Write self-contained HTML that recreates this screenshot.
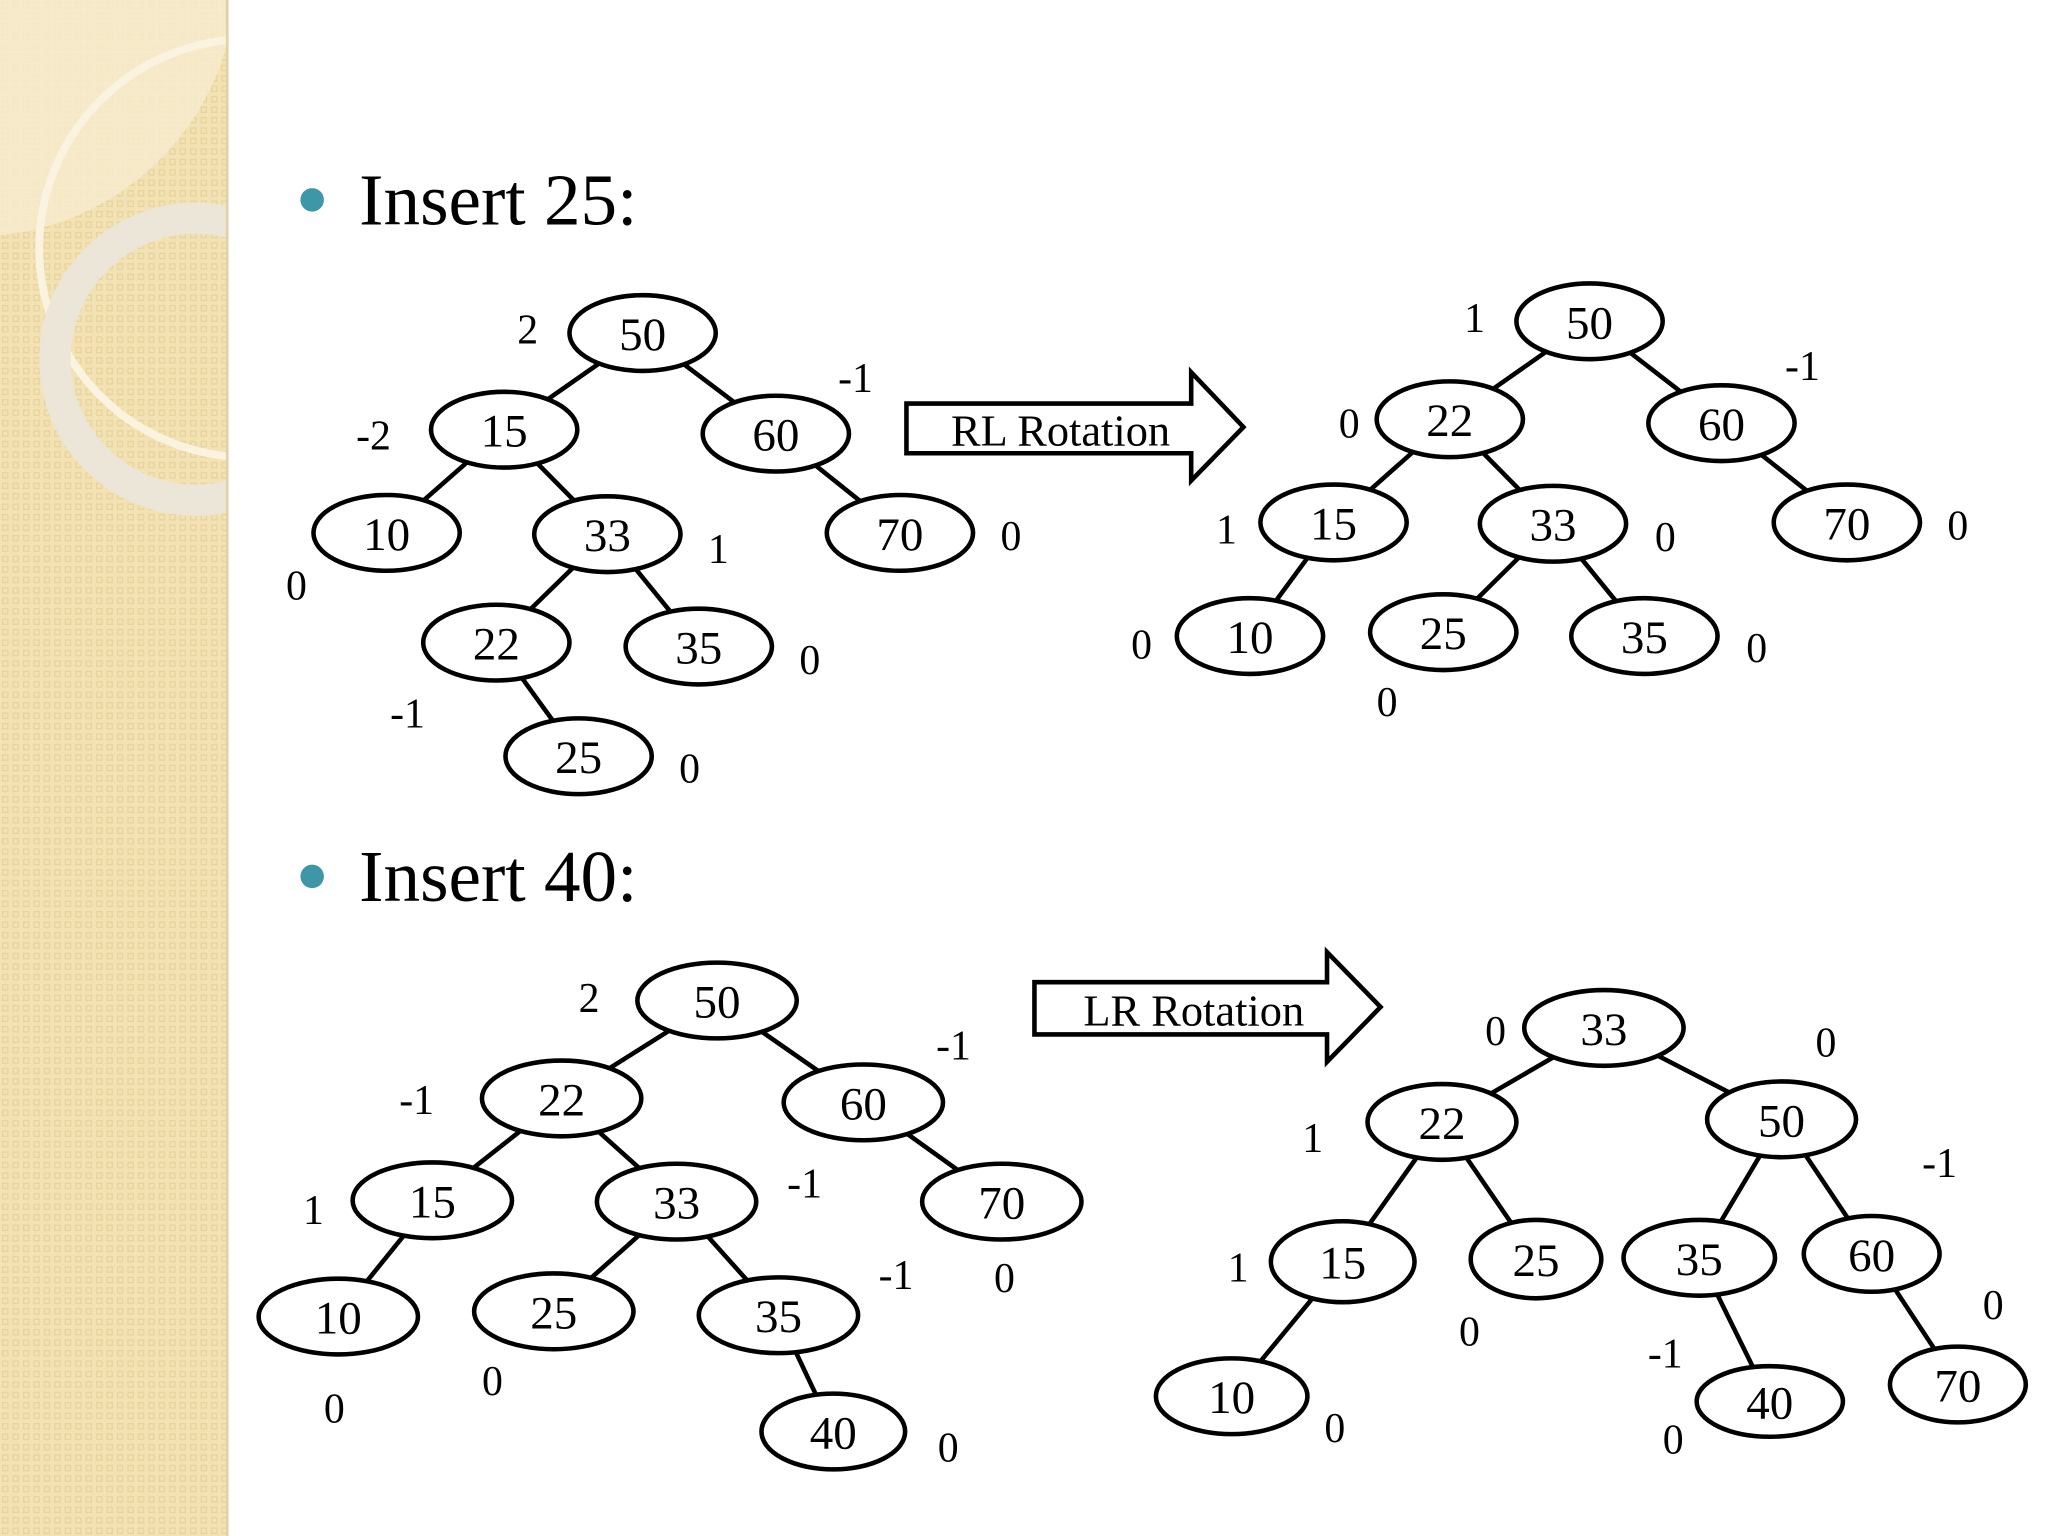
<!DOCTYPE html>
<html><head><meta charset="utf-8"><style>
html,body{margin:0;padding:0;background:#fff;}
svg{display:block;}
text{font-family:"Liberation Serif",serif;}
</style></head><body>
<svg width="2048" height="1536" viewBox="0 0 1568 1176" xmlns="http://www.w3.org/2000/svg">
<defs>
<pattern id="pt" width="8" height="8" patternUnits="userSpaceOnUse">
<rect width="8" height="8" fill="#f3e2b4"/><rect x="2" y="2" width="4" height="4" fill="none" stroke="#e8d39c" stroke-width="1"/>
</pattern>
</defs>
<rect x="0" y="0" width="174" height="1176" fill="url(#pt)"/>
<path d="M0 0 H180 A200 200 0 0 1 0 180 Z" fill="#f6ecd0" opacity="0.8"/>
<circle cx="190" cy="190" r="160" fill="none" stroke="#faf3e0" stroke-width="6"/>
<circle cx="150" cy="275" r="108" fill="none" stroke="#ebe6d8" stroke-width="24"/>
<rect x="174" y="0" width="1394" height="1176" fill="#fff"/>
<line x1="174" y1="0" x2="174" y2="1176" stroke="#e0d2a8" stroke-width="2"/>

<circle cx="239" cy="153" r="9" fill="#3d97a7"/>
<text x="275" y="172" font-size="56">Insert 25:</text>
<circle cx="239" cy="671" r="9" fill="#3d97a7"/>
<text x="275" y="690" font-size="56">Insert 40:</text>

<g stroke="#000" stroke-width="3.5" fill="none">
<!-- tree1 edges -->
<line x1="492" y1="255" x2="386" y2="329"/><line x1="492" y1="255" x2="594" y2="332"/>
<line x1="386" y1="329" x2="296" y2="408"/><line x1="386" y1="329" x2="465" y2="409"/>
<line x1="594" y1="332" x2="689" y2="408"/>
<line x1="465" y1="409" x2="380" y2="492"/><line x1="465" y1="409" x2="535" y2="495"/>
<line x1="380" y1="492" x2="443" y2="579"/>
<!-- tree2 edges -->
<line x1="1217" y1="246" x2="1110" y2="321"/><line x1="1217" y1="246" x2="1318" y2="324"/>
<line x1="1110" y1="321" x2="1021" y2="400"/><line x1="1110" y1="321" x2="1189" y2="401"/>
<line x1="1318" y1="324" x2="1414" y2="400"/>
<line x1="1021" y1="400" x2="957" y2="487"/>
<line x1="1189" y1="401" x2="1105" y2="484"/><line x1="1189" y1="401" x2="1259" y2="487"/>
<!-- tree3 edges -->
<line x1="549" y1="766" x2="430" y2="841"/><line x1="549" y1="766" x2="661" y2="844"/>
<line x1="430" y1="841" x2="331" y2="919"/><line x1="430" y1="841" x2="518" y2="920"/>
<line x1="661" y1="844" x2="767" y2="920"/>
<line x1="331" y1="919" x2="259" y2="1008"/>
<line x1="518" y1="920" x2="424" y2="1004"/><line x1="518" y1="920" x2="596" y2="1007"/>
<line x1="596" y1="1007" x2="638" y2="1096"/>
<!-- tree4 edges -->
<line x1="1228" y1="787" x2="1104" y2="859"/><line x1="1228" y1="787" x2="1364" y2="857"/>
<line x1="1104" y1="859" x2="1028" y2="966"/><line x1="1104" y1="859" x2="1176" y2="964"/>
<line x1="1364" y1="857" x2="1301" y2="963"/><line x1="1364" y1="857" x2="1433" y2="960"/>
<line x1="1028" y1="966" x2="943" y2="1069"/>
<line x1="1301" y1="963" x2="1355" y2="1073"/>
<line x1="1433" y1="960" x2="1499" y2="1060"/>
<!-- arrows -->
<polygon points="694,309 912,309 912,285 952,327 912,368 912,347 694,347" fill="#fff"/>
<polygon points="792,752 1016,752 1016,729 1057,771 1016,813 1016,792 792,792" fill="#fff"/>
</g>
<text x="812" y="341" font-size="34" text-anchor="middle">RL Rotation</text>
<text x="914" y="785" font-size="34" text-anchor="middle">LR Rotation</text>

<g stroke="#000" stroke-width="3.5" fill="#fff">
<ellipse cx="492" cy="255" rx="56" ry="29"/><ellipse cx="386" cy="329" rx="56" ry="29"/>
<ellipse cx="594" cy="332" rx="56" ry="29"/><ellipse cx="296" cy="408" rx="56" ry="29"/>
<ellipse cx="465" cy="409" rx="56" ry="29"/><ellipse cx="689" cy="408" rx="56" ry="29"/>
<ellipse cx="380" cy="492" rx="56" ry="29"/><ellipse cx="535" cy="495" rx="56" ry="29"/>
<ellipse cx="443" cy="579" rx="56" ry="29"/>

<ellipse cx="1217" cy="246" rx="56" ry="29"/><ellipse cx="1110" cy="321" rx="56" ry="29"/>
<ellipse cx="1318" cy="324" rx="56" ry="29"/><ellipse cx="1021" cy="400" rx="56" ry="29"/>
<ellipse cx="1189" cy="401" rx="56" ry="29"/><ellipse cx="1414" cy="400" rx="56" ry="29"/>
<ellipse cx="957" cy="487" rx="56" ry="29"/><ellipse cx="1105" cy="484" rx="56" ry="29"/>
<ellipse cx="1259" cy="487" rx="56" ry="29"/>

<ellipse cx="549" cy="766" rx="61" ry="29"/><ellipse cx="430" cy="841" rx="61" ry="29"/>
<ellipse cx="661" cy="844" rx="61" ry="29"/><ellipse cx="331" cy="919" rx="61" ry="29"/>
<ellipse cx="518" cy="920" rx="61" ry="29"/><ellipse cx="767" cy="920" rx="61" ry="29"/>
<ellipse cx="259" cy="1008" rx="61" ry="29"/><ellipse cx="424" cy="1004" rx="61" ry="29"/>
<ellipse cx="596" cy="1007" rx="61" ry="29"/><ellipse cx="638" cy="1096" rx="55" ry="29"/>

<ellipse cx="1228" cy="787" rx="61" ry="29"/><ellipse cx="1104" cy="859" rx="57" ry="29"/>
<ellipse cx="1364" cy="857" rx="57" ry="29"/><ellipse cx="1028" cy="966" rx="55" ry="31"/>
<ellipse cx="1176" cy="964" rx="50" ry="30"/><ellipse cx="1301" cy="963" rx="58" ry="29"/>
<ellipse cx="1433" cy="960" rx="52" ry="29"/><ellipse cx="943" cy="1069" rx="58" ry="29"/>
<ellipse cx="1355" cy="1073" rx="56" ry="27"/><ellipse cx="1499" cy="1060" rx="52" ry="29"/>
</g>

<g font-size="36" text-anchor="middle">
<text x="492" y="268">50</text><text x="386" y="342">15</text><text x="594" y="345">60</text>
<text x="296" y="421">10</text><text x="465" y="422">33</text><text x="689" y="421">70</text>
<text x="380" y="505">22</text><text x="535" y="508">35</text><text x="443" y="592">25</text>

<text x="1217" y="259">50</text><text x="1110" y="334">22</text><text x="1318" y="337">60</text>
<text x="1021" y="413">15</text><text x="1189" y="414">33</text><text x="1414" y="413">70</text>
<text x="957" y="500">10</text><text x="1105" y="497">25</text><text x="1259" y="500">35</text>

<text x="549" y="779">50</text><text x="430" y="854">22</text><text x="661" y="857">60</text>
<text x="331" y="932">15</text><text x="518" y="933">33</text><text x="767" y="933">70</text>
<text x="259" y="1021">10</text><text x="424" y="1017">25</text><text x="596" y="1020">35</text>
<text x="638" y="1109">40</text>

<text x="1228" y="800">33</text><text x="1104" y="872">22</text><text x="1364" y="870">50</text>
<text x="1028" y="979">15</text><text x="1176" y="977">25</text><text x="1301" y="976">35</text>
<text x="1433" y="973">60</text><text x="943" y="1082">10</text><text x="1355" y="1086">40</text>
<text x="1499" y="1073">70</text>
</g>

<g font-size="32" text-anchor="middle">
<text x="404" y="263">2</text><text x="655" y="300">-1</text><text x="286" y="344">-2</text>
<text x="227" y="459">0</text><text x="550" y="431">1</text><text x="774" y="421">0</text>
<text x="312" y="557">-1</text><text x="620" y="516">0</text><text x="528" y="599">0</text>

<text x="1129" y="254">1</text><text x="1380" y="291">-1</text><text x="1033" y="335">0</text>
<text x="939" y="416">1</text><text x="1275" y="422">0</text><text x="1499" y="413">0</text>
<text x="874" y="504">0</text><text x="1062" y="548">0</text><text x="1345" y="507">0</text>

<text x="451" y="775">2</text><text x="730" y="811">-1</text><text x="319" y="853">-1</text>
<text x="240" y="937">1</text><text x="616" y="917">-1</text><text x="686" y="987">-1</text>
<text x="769" y="989">0</text><text x="256" y="1089">0</text><text x="377" y="1068">0</text>
<text x="726" y="1119">0</text>

<text x="1145" y="800">0</text><text x="1398" y="809">0</text><text x="1005" y="882">1</text>
<text x="1485" y="901">-1</text><text x="948" y="981">1</text><text x="1125" y="1030">0</text>
<text x="1526" y="1010">0</text><text x="1275" y="1047">-1</text><text x="1022" y="1104">0</text>
<text x="1281" y="1113">0</text>
</g>
</svg>
</body></html>
